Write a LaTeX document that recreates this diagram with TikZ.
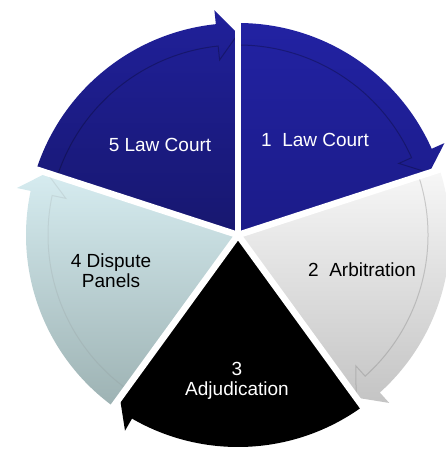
\documentclass[tikz,border=0pt]{standalone}
\usepackage{fontspec}
\setmainfont{Liberation Sans}
\usepackage{tikz}
\usetikzlibrary{calc}
\usetikzlibrary{positioning}

\definecolor{courtTop}{HTML}{2222A2}
\definecolor{courtBottom}{HTML}{1B1B88}
\definecolor{lastTop}{HTML}{20209A}
\definecolor{lastBottom}{HTML}{17176F}
\definecolor{arbTop}{HTML}{F7F7F7}
\definecolor{arbBottom}{HTML}{C4C4C4}
\definecolor{panelTop}{HTML}{D6ECF0}
\definecolor{panelBottom}{HTML}{9DB2B3}

% #1 start angle, #2 end angle (arrow end), #3 top colour, #4 bottom colour, #5 edge line
\newcommand{\cyclesector}[5]{%
    \shade[top color=#3, bottom color=#4] (0,0) -- (#1:212)
        arc[start angle=#1, end angle={#2+6}, radius=212]
        -- ({#2+6}:226) -- (#2:201) -- cycle;
    \draw[#5, line width=1pt] (#1:190)
        arc[start angle=#1, end angle={#2+6}, radius=190]
        -- ({#2+6}:176) -- (#2:201);
}

\tikzset{
    steplabel/.style={inner sep=0pt, align=center, font=\fontsize{19}{20}\selectfont},
}

\begin{document}
\begin{tikzpicture}[x=1pt, y=1pt]
    \useasboundingbox (0,0) rectangle (446,452);
    \begin{scope}[shift={(238,217)}]
        \cyclesector{162}{90}{lastTop}{lastBottom}{black, opacity=0.25}
        \cyclesector{90}{18}{courtTop}{courtBottom}{black, opacity=0.25}
        \cyclesector{18}{-54}{arbTop}{arbBottom}{gray, opacity=0.35}
        \cyclesector{-54}{-126}{black}{black}{black}
        \cyclesector{234}{162}{panelTop}{panelBottom}{gray, opacity=0.15}
        % gaps between the segments
        \foreach \a in {90,18,-54,-126,162}
            \draw[white, line width=6.5pt] (0,0) -- (\a:245);
    \end{scope}
    \node[steplabel, text=white, anchor=base] (court5) at (160,300) {5 Law Court};
    \node[steplabel, text=white, anchor=base] (court1) at (315,305) {1~ Law Court};
    \node[steplabel, anchor=base] (arbitration) at (362,175) {2~ Arbitration};
    \node[steplabel, text=white] (adjudication) at (237,71) {3\\Adjudication};
    \node[steplabel] (panels) at (111,181) {4 Dispute\\Panels};
\end{tikzpicture}
\end{document}
